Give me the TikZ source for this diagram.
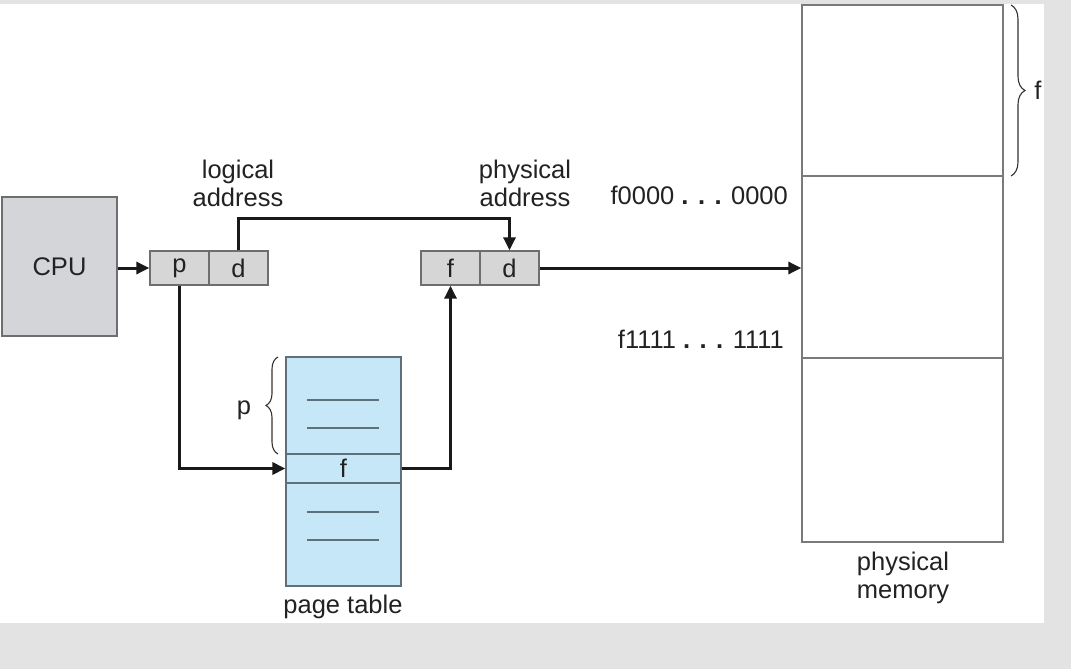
\documentclass[tikz,border=0pt]{standalone}
\usepackage{fontspec}
\setmainfont{Liberation Sans}
\usetikzlibrary{arrows.meta,decorations.pathreplacing}
\definecolor{framegray}{HTML}{E3E3E3}
\definecolor{cpufill}{HTML}{D3D5D9}
\definecolor{boxfill}{HTML}{D6D6D6}
\definecolor{boxline}{HTML}{6E6E6E}
\definecolor{ptfill}{HTML}{C6E7F7}
\definecolor{ptline}{HTML}{5E707C}
\definecolor{memline}{HTML}{7A7A7A}
\definecolor{txt}{HTML}{222222}
\begin{document}
\begin{tikzpicture}[x=1pt,y=-1pt,
  lbl/.style={font=\fontsize{25.5}{28}\selectfont, text=txt, inner sep=0pt, align=center},
  cell/.style={draw=boxline, line width=1.3pt, fill=boxfill, minimum width=59pt, minimum height=34pt, inner sep=0pt, font=\fontsize{25.5}{28}\selectfont, text=txt},
  memcell/.style={draw=memline, line width=1.3pt, fill=white, minimum width=201pt, inner sep=0pt},
  arr/.style={line width=3pt, draw=black!90, -{Triangle[length=13pt,width=12pt]}},
  brc/.style={draw=black!80, line width=1.1pt, decorate}
]
\useasboundingbox (0,0) rectangle (1071,669);
\fill[framegray] (0,0) rectangle (1071,669);
\fill[white] (0,4) rectangle (1044,623);

% CPU
\node[draw=boxline, line width=1.3pt, fill=cpufill, minimum width=115pt, minimum height=139pt, inner sep=0pt, font=\fontsize{25.5}{28}\selectfont, text=txt] (cpu) at (59.5,266.5) {CPU};

% logical address
\node[cell] (lp) at (179.5,268) {p};
\node[cell] (ld) at (238.5,268) {d};
\node[lbl] (lla) at (238,183) {logical\\address};

% physical address
\node[cell] (pf) at (450.5,268) {f};
\node[cell] (pd) at (509.5,268) {d};
\node[lbl] (pla) at (525,183) {physical\\address};

% page table
\node[draw=ptline, line width=1.2pt, fill=ptfill, minimum width=115pt, minimum height=229pt, inner sep=0pt] (pt) at (343.5,471.5) {};
\node[draw=ptline, line width=1.2pt, fill=ptfill, minimum width=115pt, minimum height=29pt, inner sep=0pt, font=\fontsize{25.5}{28}\selectfont, text=txt] (ptf) at (343.5,468.5) {f};
\foreach \yy in {400,428,512,540}
  \draw[ptline, line width=1.3pt] (307,\yy) -- (379,\yy);
\node[lbl] (ptl) at (343,607) {page table};
\draw[brc, decoration={brace, amplitude=12pt}] (278,454) -- (278,357);
\node[lbl] (pbr) at (244,410) {p};

% physical memory
\node[memcell, minimum height=171pt] (m1) at (902.5,90.5) {};
\node[memcell, minimum height=182pt] (m2) at (902.5,267) {};
\node[memcell, minimum height=184pt] (m3) at (902.5,450) {};
\coordinate (memw) at (m2.west);
\draw[brc, decoration={brace, amplitude=14pt}] (1011,5) -- (1011,176);
\node[lbl] (fbr) at (1038,90) {f};
\node[lbl] (pml) at (903,578) {physical\\memory};
\node[lbl, anchor=east] (f0) at (788,195) {f0000 \textbf{. . .} 0000};
\node[lbl, anchor=east] (f1) at (784,339) {f1111 \textbf{. . .} 1111};

% connectors
\coordinate (topy) at (0,218);
\draw[arr] (cpu.east |- lp.west) -- (lp.west);
\draw[arr] (ld.north) -- (ld.north |- topy) -| (pd.north);
\draw[arr] (lp.south) |- (ptf.west);
\draw[arr] (ptf.east) -| (pf.south);
\draw[arr] (pd.east) -- (pd.east -| memw);
\end{tikzpicture}
\end{document}
